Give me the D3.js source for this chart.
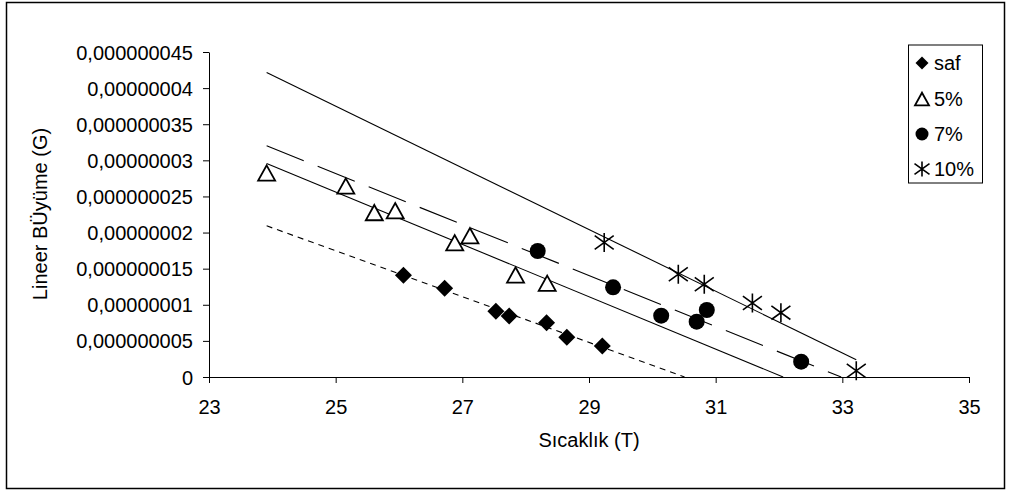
<!DOCTYPE html>
<html>
<head>
<meta charset="utf-8">
<script src="https://cdn.jsdelivr.net/npm/d3@7"></script>
<style>
  body { margin: 0; background: #fff; }
  svg { display: block; font-family: "Liberation Sans", Arial, sans-serif; }
</style>
</head>
<body>
<div id="chart"></div>
<script>
"use strict";

// series values (G in units of 1e-9)
const safX = [26.07, 26.72, 27.53, 27.74, 28.33, 28.65, 29.21];
const safY = [14.1, 12.3, 9.1, 8.45, 7.5, 5.5, 4.3].map(v => v * 1e-9);
const p5X = [23.91, 25.16, 25.61, 25.94, 26.88, 27.12, 27.84, 28.34];
const p5Y = [28.25, 26.45, 22.76, 23.03, 18.59, 19.57, 14.13, 12.98].map(v => v * 1e-9);
const p7X = [28.19, 29.38, 30.14, 30.70, 30.86, 32.35];
const p7Y = [17.45, 12.42, 8.49, 7.66, 9.28, 2.12].map(v => v * 1e-9);
const p10X = [29.24, 30.41, 30.82, 31.58, 32.03, 33.22];
const p10Y = [18.63, 14.22, 12.84, 10.25, 8.91, 0.87].map(v => v * 1e-9);

const seriesNames = ["saf", "5%", "7%", "10%"];
const xTicks = [23, 25, 27, 29, 31, 33, 35];
const yTicks = [0, 5e-9, 10e-9, 15e-9, 20e-9, 25e-9, 30e-9, 35e-9, 40e-9, 45e-9];
const yTickLabels = ["0", "0,000000005", "0,00000001", "0,000000015", "0,00000002",
  "0,000000025", "0,00000003", "0,000000035", "0,00000004", "0,000000045"];
const xTitle = "Sıcaklık (T)";
const yTitle = "Lineer BÜyüme (G)";

const W = 1011, H = 493;
const plot = { left: 209, right: 969, top: 52, bottom: 377 };

const svg = d3.select("#chart").append("svg")
  .attr("width", W).attr("height", H);

// outer chart border
svg.append("rect")
  .attr("x", 6.5).attr("y", 2.5)
  .attr("width", 998).attr("height", 486)
  .attr("fill", "#fff").attr("stroke", "#000").attr("stroke-width", 1.5);

const x = d3.scaleLinear().domain([23, 35]).range([plot.left, plot.right]);
const y = d3.scaleLinear().domain([0, 45e-9]).range([plot.bottom, plot.top]);

// axes
const xAxis = svg.append("g")
  .attr("transform", "translate(0," + plot.bottom + ")")
  .call(d3.axisBottom(x).tickValues(xTicks).tickSize(6).tickSizeOuter(0).tickFormat(d3.format("d")));
const yAxis = svg.append("g")
  .attr("transform", "translate(" + plot.left + ",0)")
  .call(d3.axisLeft(y).tickValues(yTicks).tickSize(6).tickSizeOuter(0)
    .tickFormat((d, i) => yTickLabels[i]));

[xAxis, yAxis].forEach(g => {
  g.select(".domain").attr("stroke", "#000").attr("stroke-width", 1);
  g.selectAll(".tick line").attr("stroke", "#000");
  g.selectAll(".tick text")
    .attr("fill", "#000")
    .style("font-size", "20px")
    .style("font-family", "'Liberation Sans', Arial, sans-serif");
});
xAxis.selectAll(".tick text").attr("y", 23).attr("dy", "0.71em");
yAxis.selectAll(".tick text").attr("x", -16).attr("dy", "0.35em");

// axis titles
svg.append("text")
  .attr("x", (plot.left + plot.right) / 2)
  .attr("y", 447)
  .attr("text-anchor", "middle")
  .style("font-size", "20px")
  .text(xTitle);
svg.append("text")
  .attr("transform", "translate(47," + 214 + ") rotate(-90)")
  .attr("text-anchor", "middle")
  .style("font-size", "20px")
  .text(yTitle);

// linear trend lines (least squares), drawn across the overall x range, clipped at y = 0
const allX = [].concat(safX, p5X, p7X, p10X);
const xMin = d3.min(allX), xMax = d3.max(allX);

function fit(xs, ys) {
  const mx = d3.mean(xs), my = d3.mean(ys);
  let sxy = 0, sxx = 0;
  xs.forEach((v, i) => {
    sxy += (v - mx) * (ys[i] - my);
    sxx += (v - mx) * (v - mx);
  });
  const b = sxy / sxx;
  return { b: b, a: my - b * mx };
}

const line = d3.line().x(d => x(d[0])).y(d => y(d[1]));

function trend(xs, ys, dash) {
  const f = fit(xs, ys);
  let x1 = xMax;
  const xZero = -f.a / f.b;
  if (f.b < 0 && xZero < x1) x1 = xZero;
  const pts = [[xMin, f.a + f.b * xMin], [x1, Math.max(0, f.a + f.b * x1)]];
  svg.append("path")
    .attr("d", line(pts))
    .attr("fill", "none")
    .attr("stroke", "#000")
    .attr("stroke-width", 1.1)
    .attr("stroke-dasharray", dash);
}

trend(safX, safY, "6,5");
trend(p5X, p5Y, null);
trend(p7X, p7Y, "40,15");
trend(p10X, p10Y, null);

// marker shapes
function diamond(g, s) {
  g.append("path")
    .attr("d", "M0," + (-s) + "L" + s + ",0L0," + s + "L" + (-s) + ",0Z")
    .attr("fill", "#000");
}
function triangle(g, s) {
  const h = s * 0.9;
  g.append("path")
    .attr("d", "M0," + (-h) + "L" + s + "," + h + "L" + (-s) + "," + h + "Z")
    .attr("fill", "#fff").attr("stroke", "#000").attr("stroke-width", 1.8)
    .attr("stroke-linejoin", "miter");
}
function dot(g, s) {
  g.append("circle").attr("r", s).attr("fill", "#000");
}
function star(g, s) {
  const d = s * 0.72;
  g.append("path")
    .attr("d", "M0," + (-s) + "V" + s +
      "M" + (-s) + "," + (-d) + "L" + s + "," + d +
      "M" + (-s) + "," + d + "L" + s + "," + (-d))
    .attr("fill", "none").attr("stroke", "#000").attr("stroke-width", 1.6);
}

const shapes = [diamond, triangle, dot, star];
const sizes = [8.5, 8.5, 8, 9.5];
const legendSizes = [6.5, 7, 6.5, 7.5];
const seriesX = [safX, p5X, p7X, p10X];
const seriesY = [safY, p5Y, p7Y, p10Y];

seriesX.forEach((xs, k) => {
  xs.forEach((v, i) => {
    const g = svg.append("g")
      .attr("transform", "translate(" + x(v) + "," + y(seriesY[k][i]) + ")");
    shapes[k](g, sizes[k]);
  });
});

// legend
const legend = svg.append("g");
legend.append("rect")
  .attr("x", 908.5).attr("y", 45)
  .attr("width", 74).attr("height", 138)
  .attr("fill", "#fff").attr("stroke", "#000").attr("stroke-width", 1);
const rowY = [63, 99, 134, 169];
seriesNames.forEach((name, k) => {
  const g = legend.append("g").attr("transform", "translate(922," + rowY[k] + ")");
  shapes[k](g, legendSizes[k]);
  legend.append("text")
    .attr("x", 934).attr("y", rowY[k])
    .attr("dy", "0.35em")
    .style("font-size", "20px")
    .text(name);
});
</script>
</body>
</html>
